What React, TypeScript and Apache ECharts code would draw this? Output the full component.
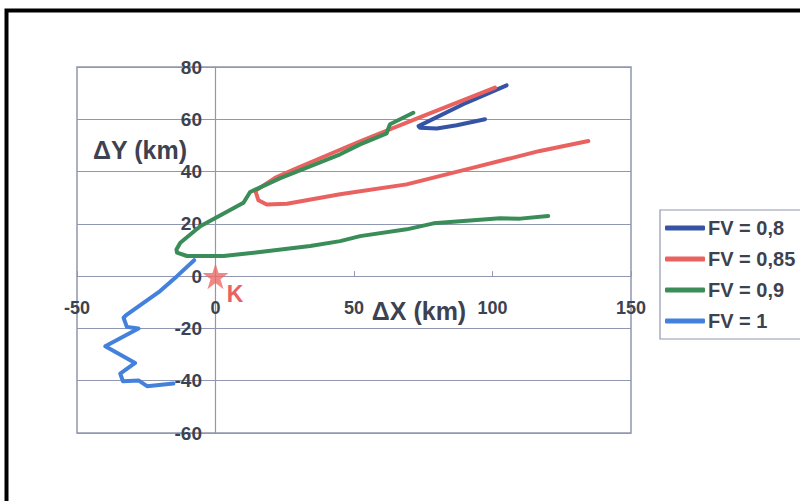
import React, { useEffect, useRef } from "react";
import * as echarts from "echarts";

// Trajectories (ΔX km, ΔY km)
const fv08: [number, number][] = [
  [105.1, 73.0], [90.7, 66.4], [73.3, 57.4], [73.8, 56.8], [79.9, 56.5], [87.1, 57.7], [97.3, 60.0],
];
const fv085: [number, number][] = [
  [100.9, 72.1], [75.1, 61.3], [52.2, 51.6], [28.2, 40.8], [21.5, 37.6], [14.4, 32.6], [15.5, 29.0],
  [18.5, 27.4], [25.8, 27.7], [45.0, 31.3], [69.0, 35.1], [93.1, 41.5], [117.1, 47.9], [134.6, 51.7],
];
const fv09: [number, number][] = [
  [71.4, 62.5], [63.0, 58.1], [62.4, 56.5], [61.8, 54.6], [52.2, 50.4], [45.0, 46.6], [23.4, 37.5],
  [12.5, 32.2], [10.1, 28.1], [-5.5, 19.1], [-12.7, 12.8], [-14.1, 10.2], [-13.9, 9.0], [-10.3, 7.7],
  [2.9, 7.7], [16.1, 9.2], [34.2, 11.5], [45.0, 13.4], [52.2, 15.3], [69.0, 17.9], [78.7, 20.2],
  [102.7, 22.1], [110.0, 22.0], [120.1, 23.0],
];
const fv1: [number, number][] = [
  [-7.7, 6.1], [-13.9, 0.0], [-20.0, -5.7], [-26.0, -10.2], [-32.0, -14.7], [-33.2, -15.9],
  [-32.0, -19.4], [-27.8, -20.0], [-39.8, -26.8], [-29.0, -33.2], [-34.4, -37.3], [-33.4, -40.2],
  [-27.8, -39.9], [-24.7, -42.1], [-15.2, -41.1],
];
const stationK: [number, number][] = [[0, 0]];

const seriesNames = ["FV = 0,8", "FV = 0,85", "FV = 0,9", "FV = 1"];
const seriesData = [fv08, fv085, fv09, fv1];
const seriesColors = ["#3554a6", "#e9625f", "#3a8c58", "#4381dd"];

const xTitle = "ΔX (km)";
const yTitle = "ΔY (km)";
const starLabel = "K";

const FONT = "'Liberation Sans', Arial, sans-serif";
const TXT = "#3d4250";
const GRID = "#9097b0";

export default function App() {
  const ref = useRef<HTMLDivElement>(null);
  useEffect(() => {
    const chart = echarts.init(ref.current!, undefined, { renderer: "svg" });
    const star =
      "path://M50,0 L61.8,35.4 L100,35.4 L69.1,57.3 L80.9,92.7 L50,70.8 L19.1,92.7 L30.9,57.3 L0,35.4 L38.2,35.4 Z";
    chart.setOption({
      animation: false,
      backgroundColor: "#ffffff",
      textStyle: { fontFamily: FONT },
      grid: {
        left: 77,
        top: 67,
        right: 169,
        bottom: 68,
        show: true,
        borderColor: GRID,
        borderWidth: 1.5,
        backgroundColor: "transparent",
      },
      xAxis: {
        type: "value",
        min: -50,
        max: 150,
        interval: 50,
        axisLine: { onZero: true, lineStyle: { color: GRID, width: 1.2 } },
        axisTick: { show: true, inside: true, length: 5, lineStyle: { color: GRID } },
        axisLabel: {
          margin: -134,
          color: TXT,
          fontSize: 18,
          fontWeight: "bold",
          fontFamily: FONT,
        },
        splitLine: { show: false },
      },
      yAxis: {
        type: "value",
        min: -60,
        max: 80,
        interval: 20,
        axisLine: { onZero: true, lineStyle: { color: GRID, width: 1.2 } },
        axisTick: { show: false },
        axisLabel: {
          margin: -125,
          color: TXT,
          fontSize: 19,
          fontWeight: "bold",
          fontFamily: FONT,
        },
        splitLine: { show: true, lineStyle: { color: GRID, width: 1.2 } },
      },
      legend: {
        data: seriesNames,
        orient: "vertical",
        left: 660,
        top: 210,
        padding: [8, 12, 8, 5],
        itemGap: 11,
        itemWidth: 40,
        itemHeight: 5,
        icon: "roundRect",
        borderColor: GRID,
        borderWidth: 1.2,
        backgroundColor: "#ffffff",
        textStyle: { color: TXT, fontSize: 20, fontWeight: "bold", fontFamily: FONT, padding: [0, 0, 0, -2] },
      },
      graphic: [
        {
          type: "rect",
          shape: { x: 6.5, y: 10.5, width: 900, height: 600 },
          style: { fill: "none", stroke: "#000000", lineWidth: 4 },
          silent: true,
        },
        {
          type: "text",
          x: 140,
          y: 150,
          style: {
            text: yTitle,
            fill: TXT,
            font: `bold 25px ${FONT}`,
            align: "center",
            verticalAlign: "middle",
          },
        },
        {
          type: "text",
          x: 419,
          y: 311,
          style: {
            text: xTitle,
            fill: TXT,
            font: `bold 25px ${FONT}`,
            align: "center",
            verticalAlign: "middle",
          },
        },
        {
          type: "text",
          x: 235,
          y: 294,
          z: 10,
          style: {
            text: starLabel,
            fill: "#e9625f",
            font: `bold 23px ${FONT}`,
            align: "center",
            verticalAlign: "middle",
          },
        },
      ],
      series: [
        ...seriesNames.map((name, i) => ({
          name,
          type: "line",
          data: seriesData[i],
          showSymbol: false,
          symbol: "none",
          color: seriesColors[i],
          lineStyle: { width: 4, color: seriesColors[i], cap: "round", join: "round" },
          z: 3,
        })),
        {
          name: "K",
          type: "scatter",
          data: stationK,
          symbol: star,
          symbolSize: 26,
          itemStyle: { color: "#ec6a66" },
          z: 4,
        },
      ],
    });
    return () => chart.dispose();
  }, []);
  return (
    <div
      ref={ref}
      style={{ position: "fixed", left: 0, top: 0, width: 800, height: 501 }}
    />
  );
}
